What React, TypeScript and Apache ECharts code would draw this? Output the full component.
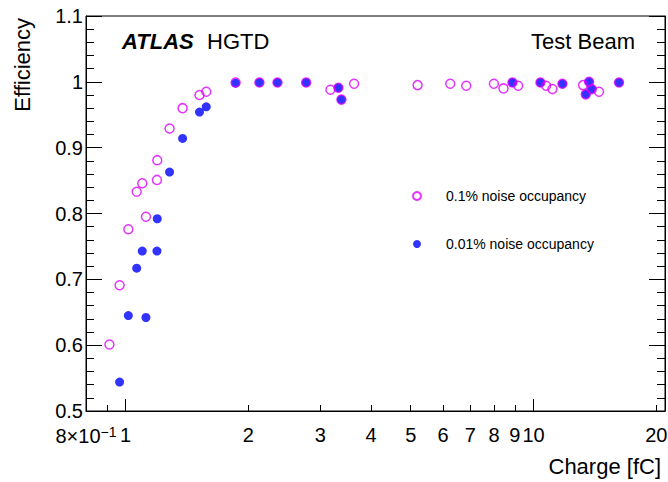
import React, { useEffect, useRef } from "react";
import * as echarts from "echarts";

const FONT = "'Liberation Sans', Arial, Helvetica, sans-serif";
const MAGENTA = "#dd00ff";
const BLUE = "#0000ff";

// 0.1% noise occupancy (open circles)
const chargeOpen = [0.913, 0.967, 1.016, 1.065, 1.099, 1.122, 1.194, 1.196, 1.282, 1.38, 1.518, 1.577, 1.861, 2.129, 2.357, 2.771, 3.178, 3.324, 3.381, 3.632, 5.197, 6.249, 6.839, 7.995, 8.44, 8.878, 9.169, 10.397, 10.735, 11.125, 11.77, 13.226, 13.43, 13.68, 13.89, 14.47, 16.2];
const effOpen = [0.601, 0.691, 0.776, 0.833, 0.846, 0.795, 0.851, 0.881, 0.929, 0.96, 0.98, 0.985, 0.999, 0.999, 0.999, 0.999, 0.988, 0.991, 0.973, 0.997, 0.995, 0.997, 0.994, 0.997, 0.99, 0.999, 0.994, 0.999, 0.994, 0.989, 0.997, 0.995, 0.981, 1.0, 0.989, 0.985, 0.999];

// 0.01% noise occupancy (filled circles)
const chargeFilled = [0.967, 1.016, 1.065, 1.099, 1.122, 1.194, 1.196, 1.282, 1.38, 1.518, 1.577, 1.861, 2.129, 2.357, 2.771, 3.324, 3.381, 8.878, 10.397, 11.77, 13.43, 13.68, 13.89, 16.2];
const effFilled = [0.544, 0.645, 0.717, 0.743, 0.642, 0.743, 0.792, 0.863, 0.914, 0.954, 0.962, 0.998, 0.999, 0.999, 0.999, 0.991, 0.973, 0.999, 0.999, 0.997, 0.981, 1.0, 0.989, 0.999];

const xMajorTicks = [1, 10];
const xMinorTicks = [0.9, 2, 3, 4, 5, 6, 7, 8, 9, 20];
const xLabelValues = [0.8, 1, 2, 3, 4, 5, 6, 7, 8, 9, 10, 20];

const X_MIN = 0.8;
const X_MAX = 21;
const Y_MIN = 0.5;
const Y_MAX = 1.1;

const SERIES_OPEN = "0.1% noise occupancy";
const SERIES_FILLED = "0.01% noise occupancy";

function buildOption(): any {
  const openData = chargeOpen.map((c, i) => [c, effOpen[i]]);
  const filledData = chargeFilled.map((c, i) => [c, effFilled[i]]);

  const xLabelFmt = (v: number) => {
    if (Math.abs(v - 0.8) < 1e-6) return "8×10{sup|−1}";
    return String(Math.round(v));
  };

  const baseX = {
    type: "log",
    logBase: 10,
    min: X_MIN,
    max: X_MAX,
    position: "bottom",
    splitLine: { show: false },
    minorTick: { show: false },
    minorSplitLine: { show: false },
  };

  const baseY = {
    type: "value",
    min: Y_MIN,
    max: Y_MAX,
    interval: 0.1,
    splitLine: { show: false },
    minorSplitLine: { show: false },
    axisLine: { show: true, lineStyle: { color: "#000", width: 1 } },
    axisTick: { show: true, inside: true, length: 16, lineStyle: { color: "#000", width: 1 } },
    minorTick: { show: true, splitNumber: 5, length: 8, lineStyle: { color: "#000", width: 1 } },
  };

  return {
    animation: false,
    backgroundColor: "#ffffff",
    grid: {
      left: 86,
      top: 16,
      width: 579,
      height: 395,
      show: true,
      borderColor: "#000",
      borderWidth: 1,
      backgroundColor: "transparent",
      containLabel: false,
      outerBoundsMode: "none",
    },
    xAxis: [
      {
        ...baseX,
        axisLine: { show: true, onZero: false, lineStyle: { color: "#000", width: 1 } },
        axisTick: { show: true, inside: true, length: 12, customValues: xMajorTicks, lineStyle: { color: "#000", width: 1 } },
        axisLabel: {
          show: true,
          customValues: xLabelValues,
          formatter: xLabelFmt,
          margin: 14,
          fontSize: 20,
          color: "#000",
          fontFamily: FONT,
          rich: {
            sup: { fontSize: 14, verticalAlign: "top", color: "#000", fontFamily: FONT, padding: [0, 0, 8, 0] },
          },
        },
      },
      {
        ...baseX,
        axisLine: { show: false },
        axisTick: { show: true, inside: true, length: 6, customValues: xMinorTicks, lineStyle: { color: "#000", width: 1 } },
        axisLabel: { show: false },
      },
    ],
    yAxis: [
      {
        ...baseY,
        position: "left",
        axisLabel: {
          show: true,
          formatter: (v: number) => String(+v.toFixed(1)),
          margin: 3,
          fontSize: 20,
          color: "#000",
          fontFamily: FONT,
        },
      },
      {
        ...baseY,
        position: "right",
        axisLabel: { show: false },
      },
    ],
    legend: {
      data: [SERIES_OPEN, SERIES_FILLED],
      orient: "vertical",
      left: 407,
      top: 184,
      itemWidth: 48,
      itemHeight: 8,
      itemGap: 34,
      textStyle: { fontSize: 14, color: "#000", fontFamily: FONT },
    },
    series: [
      {
        name: SERIES_FILLED,
        type: "scatter",
        xAxisIndex: 0,
        yAxisIndex: 0,
        data: filledData,
        symbol: "circle",
        symbolSize: 9,
        itemStyle: { color: BLUE },
        z: 2,
      },
      {
        name: SERIES_OPEN,
        type: "scatter",
        xAxisIndex: 0,
        yAxisIndex: 0,
        data: openData,
        symbol: "circle",
        symbolSize: 9,
        itemStyle: { color: "rgba(255,255,255,0)", borderColor: MAGENTA, borderWidth: 1.5 },
        z: 3,
      },
    ],
    graphic: [
      {
        type: "text",
        x: 122,
        y: 41,
        style: { text: "ATLAS", fill: "#000", font: `italic bold 22px ${FONT}`, align: "left", verticalAlign: "middle" },
      },
      {
        type: "text",
        x: 207,
        y: 41,
        style: { text: "HGTD", fill: "#000", font: `22px ${FONT}`, align: "left", verticalAlign: "middle" },
      },
      {
        type: "text",
        x: 635,
        y: 41,
        style: { text: "Test Beam", fill: "#000", font: `22px ${FONT}`, align: "right", verticalAlign: "middle" },
      },
      {
        type: "text",
        x: 22,
        y: 18,
        rotation: Math.PI / 2,
        style: { text: "Efficiency", fill: "#000", font: `22px ${FONT}`, align: "right", verticalAlign: "middle" },
      },
      {
        type: "text",
        x: 661,
        y: 466,
        style: { text: "Charge [fC]", fill: "#000", font: `22px ${FONT}`, align: "right", verticalAlign: "middle" },
      },
    ],
  };
}

export default function App() {
  const ref = useRef<HTMLDivElement>(null);
  useEffect(() => {
    if (!ref.current) return;
    const chart = echarts.init(ref.current, null, { renderer: "svg" });
    chart.setOption(buildOption());
    return () => chart.dispose();
  }, []);
  return (
    <div
      ref={ref}
      style={{ position: "fixed", left: 0, top: 0, width: 668, height: 482, background: "#fff" }}
    />
  );
}
